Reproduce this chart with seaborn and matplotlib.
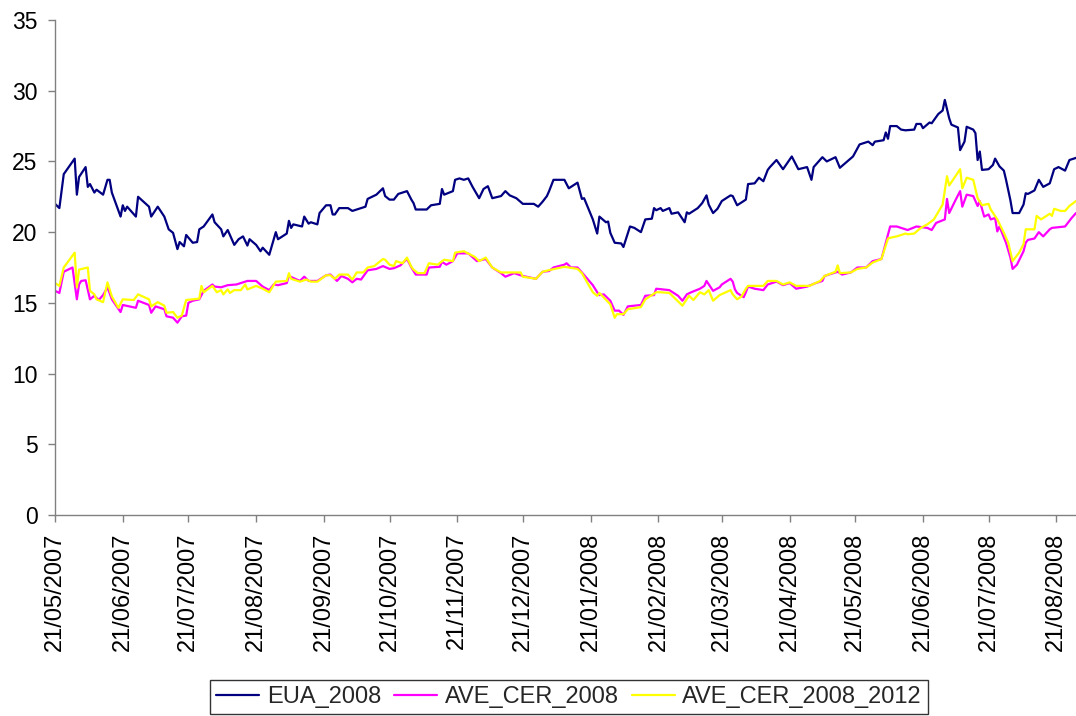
import matplotlib
matplotlib.use("Agg")
import matplotlib.pyplot as plt
import matplotlib.dates as mdates
from matplotlib import font_manager
import numpy as np
import pandas as pd
import seaborn as sns

# ---------------- data ----------------
start_date = "2007-05-21"

eua_day = [0, 2, 4, 9, 10, 11, 14, 15, 16, 18, 19, 22, 24, 25, 26, 30, 31, 32, 33, 37, 38, 43, 44, 47, 50,
           52, 54, 56, 57, 59, 60, 63, 65, 66, 68, 72, 73, 76, 77, 79, 82, 84, 86, 88, 89, 92, 94, 95, 98,
           101, 102, 106, 107, 108, 109, 113, 114, 116, 117, 120, 121, 124, 126, 127, 128, 130, 134, 136,
           142, 143, 147, 150, 151, 153, 155, 157, 161, 163, 164, 165, 170, 172, 176, 177, 178, 182, 183,
           185, 187, 189, 191, 194, 196, 198, 200, 204, 206, 208, 211, 214, 219, 221, 223, 225, 226, 228,
           233, 235, 239, 241, 242, 246, 248, 249, 252, 253, 254, 256, 259, 260, 263, 265, 268, 270, 273,
           274, 275, 277, 278, 281, 282, 285, 288, 289, 290, 294, 296, 298, 299, 301, 303, 305, 309, 310,
           312, 316, 317, 320, 322, 324, 326, 327, 330, 333, 337, 340, 344, 346, 347, 351, 353, 357, 359,
           365, 368, 372, 374, 375, 379, 380, 381, 382, 385, 387, 389, 393, 394, 396, 397, 400, 401, 404,
           406, 407, 409, 410, 413, 414, 416, 417, 420, 421, 422, 423, 424, 427, 429, 430, 432, 434, 435,
           437, 438, 441, 443, 444, 445, 448, 450, 452, 455, 457, 459, 462, 464, 467]
eua_val = [22.0, 21.7, 24.1, 25.2, 22.65, 23.9, 24.6, 23.2, 23.4, 22.8, 23.0, 22.65, 23.7, 23.7, 22.8, 21.1,
           21.9, 21.5, 21.8, 21.1, 22.5, 21.8, 21.1, 21.8, 21.1, 20.2, 19.95, 18.8, 19.3, 19.0, 19.8, 19.25,
           19.3, 20.2, 20.4, 21.25, 20.7, 20.2, 19.7, 20.15, 19.1, 19.5, 19.7, 19.05, 19.5, 19.1, 18.65,
           18.9, 18.4, 20.0, 19.5, 19.9, 20.8, 20.3, 20.55, 20.4, 21.1, 20.6, 20.7, 20.55, 21.35, 21.9,
           21.9, 21.25, 21.25, 21.7, 21.7, 21.5, 21.8, 22.35, 22.65, 23.1, 22.55, 22.3, 22.3, 22.7, 22.9,
           22.3, 22.05, 21.6, 21.6, 21.9, 22.0, 23.05, 22.65, 22.9, 23.7, 23.8, 23.7, 23.8, 23.2, 22.4,
           23.05, 23.25, 22.4, 22.55, 22.9, 22.6, 22.4, 22.0, 22.0, 21.8, 22.15, 22.55, 22.9, 23.7, 23.7,
           23.1, 23.5, 22.35, 22.4, 20.9, 19.9, 21.1, 20.7, 20.75, 19.95, 19.25, 19.2, 18.95, 20.4, 20.3,
           20.0, 20.9, 20.95, 21.7, 21.55, 21.7, 21.5, 21.7, 21.3, 21.4, 20.7, 21.4, 21.3, 21.7, 22.05,
           22.6, 21.95, 21.35, 21.65, 22.2, 22.6, 22.55, 21.9, 22.3, 23.4, 23.45, 23.85, 23.6, 24.4, 24.6,
           25.1, 24.45, 25.35, 24.45, 24.6, 23.7, 24.6, 25.3, 25.0, 25.3, 24.55, 25.35, 26.2, 26.4, 26.15,
           26.4, 26.5, 27.05, 26.6, 27.5, 27.5, 27.25, 27.2, 27.25, 27.65, 27.65, 27.35, 27.75, 27.7,
           28.35, 28.6, 29.35, 28.05, 27.6, 27.4, 25.8, 26.4, 27.45, 27.25, 27.0, 25.1, 25.7, 24.4, 24.45,
           24.75, 25.2, 24.65, 24.35, 23.7, 22.25, 21.35, 21.35, 21.95, 22.75, 22.7, 22.95, 23.7, 23.2,
           23.45, 24.45, 24.6, 24.35, 25.1, 25.25]

cer08_day = [0, 2, 4, 8, 10, 11, 12, 14, 16, 18, 20, 22, 24, 26, 30, 31, 37, 38, 43, 44, 46, 50, 51, 54, 56,
             58, 60, 61, 63, 66, 68, 72, 73, 76, 79, 83, 85, 88, 92, 95, 98, 100, 102, 106, 107, 112, 114,
             116, 120, 124, 126, 129, 131, 134, 136, 138, 140, 143, 147, 150, 153, 155, 158, 161, 163, 165,
             170, 171, 176, 177, 179, 182, 184, 189, 193, 197, 200, 204, 206, 210, 214, 220, 223, 226, 228,
             233, 234, 236, 239, 241, 246, 248, 249, 251, 254, 256, 258, 260, 262, 268, 270, 274, 275, 281,
             285, 287, 289, 291, 295, 297, 298, 301, 304, 305, 309, 310, 311, 312, 315, 316, 317, 320, 324,
             326, 330, 333, 336, 339, 344, 348, 351, 352, 358, 360, 364, 367, 371, 374, 378, 380, 382, 385,
             389, 390, 394, 399, 401, 403, 407, 408, 409, 412, 414, 415, 417, 420, 422, 423, 425, 427, 428,
             430, 431, 432, 435, 437, 438, 440, 443, 444, 445, 448, 450, 452, 455, 456, 462, 465, 467]
cer08_val = [15.85, 15.7, 17.2, 17.5, 15.25, 16.3, 16.55, 16.6, 15.25, 15.5, 15.2, 15.55, 16.1, 15.25, 14.35,
             14.85, 14.65, 15.15, 14.85, 14.3, 14.75, 14.55, 14.05, 13.95, 13.6, 14.05, 14.1, 15.0, 15.15,
             15.25, 15.85, 16.3, 16.15, 16.1, 16.25, 16.3, 16.4, 16.55, 16.55, 16.15, 15.9, 16.3, 16.25,
             16.4, 16.9, 16.55, 16.85, 16.55, 16.55, 16.95, 17.0, 16.55, 16.9, 16.7, 16.45, 16.7, 16.65,
             17.3, 17.4, 17.6, 17.4, 17.45, 17.65, 18.1, 17.5, 17.0, 17.0, 17.5, 17.55, 17.9, 17.7, 17.95,
             18.5, 18.5, 17.95, 18.1, 17.5, 17.1, 16.85, 17.1, 16.9, 16.7, 17.2, 17.25, 17.5, 17.7, 17.8,
             17.5, 17.5, 17.15, 16.25, 15.75, 15.55, 15.6, 15.15, 14.45, 14.45, 14.15, 14.75, 14.85, 15.5,
             15.55, 16.0, 15.9, 15.5, 15.15, 15.6, 15.75, 16.0, 16.2, 16.55, 15.85, 16.1, 16.3, 16.7, 16.5,
             15.95, 15.7, 15.4, 15.75, 16.15, 16.0, 15.9, 16.3, 16.5, 16.25, 16.4, 16.0, 16.15, 16.4, 16.55,
             16.9, 17.2, 17.0, 17.15, 17.5, 17.5, 17.95, 18.1, 19.25, 20.4, 20.4, 20.2, 20.15, 20.4, 20.3,
             20.15, 20.65, 20.9, 22.35, 21.35, 22.3, 22.9, 21.8, 22.65, 22.55, 21.85, 22.2, 21.1, 21.25,
             20.9, 21.0, 20.05, 20.4, 19.25, 18.2, 17.4, 17.7, 18.65, 19.25, 19.45, 19.55, 20.0, 19.7, 20.2,
             20.3, 20.4, 21.0, 21.35]

cer0812_day = [0, 2, 4, 9, 10, 11, 15, 16, 18, 19, 22, 24, 26, 29, 31, 36, 38, 43, 44, 47, 50, 51, 54, 56,
               58, 60, 63, 66, 67, 68, 72, 74, 76, 77, 79, 80, 82, 85, 87, 88, 92, 95, 98, 101, 106, 107,
               108, 112, 115, 117, 120, 124, 126, 128, 130, 134, 136, 138, 141, 143, 146, 150, 151, 153,
               155, 156, 159, 161, 163, 164, 166, 169, 171, 175, 178, 182, 183, 187, 192, 194, 197, 200,
               204, 213, 214, 220, 223, 227, 233, 239, 241, 246, 248, 249, 254, 256, 257, 260, 262, 268,
               270, 275, 277, 281, 284, 287, 290, 292, 295, 297, 299, 301, 304, 309, 310, 312, 314, 316,
               317, 324, 326, 330, 333, 336, 339, 345, 350, 352, 357, 358, 359, 364, 367, 371, 374, 378,
               381, 382, 385, 389, 390, 393, 396, 399, 402, 406, 408, 409, 414, 415, 417, 420, 422, 424,
               427, 428, 431, 434, 436, 438, 441, 443, 444, 448, 449, 451, 455, 456, 457, 460, 462, 464, 467]
cer0812_val = [16.4, 16.2, 17.5, 18.55, 16.1, 17.35, 17.5, 15.85, 15.6, 15.25, 15.05, 16.45, 15.45, 14.65,
               15.25, 15.2, 15.6, 15.25, 14.75, 15.05, 14.8, 14.3, 14.35, 13.95, 14.1, 15.2, 15.25, 15.3,
               16.2, 15.75, 16.2, 15.75, 15.9, 15.6, 15.95, 15.7, 15.9, 15.9, 16.3, 15.95, 16.2, 16.0, 15.75,
               16.5, 16.55, 17.1, 16.7, 16.5, 16.65, 16.5, 16.5, 16.95, 16.95, 16.7, 17.0, 17.0, 16.65,
               17.15, 17.15, 17.5, 17.6, 18.1, 18.05, 17.7, 17.6, 17.95, 17.8, 18.2, 17.55, 17.35, 17.1,
               17.1, 17.8, 17.7, 18.05, 17.95, 18.55, 18.65, 18.25, 17.95, 18.2, 17.5, 17.15, 17.15, 16.85,
               16.7, 17.2, 17.35, 17.55, 17.4, 17.1, 15.75, 15.5, 15.7, 14.9, 13.95, 14.2, 14.2, 14.55, 14.7,
               15.25, 15.75, 15.75, 15.7, 15.25, 14.8, 15.5, 15.2, 15.75, 15.6, 15.9, 15.15, 15.55, 15.9,
               15.6, 15.25, 15.45, 16.0, 16.2, 16.2, 16.55, 16.55, 16.3, 16.45, 16.2, 16.2, 16.55, 16.9,
               17.2, 17.65, 17.1, 17.15, 17.4, 17.5, 17.85, 18.1, 19.55, 19.6, 19.7, 19.9, 19.85, 19.9, 20.3,
               20.55, 20.9, 21.95, 23.95, 23.3, 24.45, 23.1, 23.85, 23.7, 22.4, 21.9, 22.0, 21.6, 20.9,
               19.95, 19.25, 17.95, 18.55, 19.15, 20.2, 20.2, 21.15, 20.9, 21.3, 21.15, 21.65, 21.5, 21.5,
               21.85, 22.2]

series_names = ["EUA_2008", "AVE_CER_2008", "AVE_CER_2008_2012"]
series_colors = ["#000080", "#FF00FF", "#FFFF00"]
y_ticks = [0, 5, 10, 15, 20, 25, 30, 35]

# ---------------- build frames ----------------
t0 = pd.Timestamp(start_date)
frames = []
for name, days, vals in [(series_names[0], eua_day, eua_val),
                         (series_names[1], cer08_day, cer08_val),
                         (series_names[2], cer0812_day, cer0812_val)]:
    frames.append(pd.DataFrame({"date": t0 + pd.to_timedelta(days, unit="D"),
                                "price": vals, "series": name}))
df = pd.concat(frames, ignore_index=True)

# ---------------- style ----------------
sns.set_style("white")
avail = {f.name for f in font_manager.fontManager.ttflist}
fam = "Liberation Sans" if "Liberation Sans" in avail else "DejaVu Sans"
plt.rcParams["font.family"] = [fam, "DejaVu Sans"]

fig = plt.figure(figsize=(10.76, 7.16), dpi=100)
ax = fig.add_axes([55 / 1076, 1 - 515 / 716, 1 - 55 / 1076, (515 - 20) / 716])

for name, col in zip(series_names, series_colors):
    sub = df[df["series"] == name]
    sns.lineplot(data=sub, x="date", y="price", color=col, linewidth=1.6,
                 estimator=None, ax=ax, label=name)

ax.set_xlim(t0, df["date"].max())
ax.set_ylim(0, 35)
ax.set_yticks(y_ticks)
ax.xaxis.set_major_locator(mdates.MonthLocator(bymonthday=21))
ax.xaxis.set_major_formatter(mdates.DateFormatter("%d/%m/%Y"))
ax.set_xlabel("")
ax.set_ylabel("")

for s in ["top", "right"]:
    ax.spines[s].set_visible(False)
for s in ["left", "bottom"]:
    ax.spines[s].set_color("#808080")
    ax.spines[s].set_linewidth(1.0)

ax.tick_params(axis="both", which="major", direction="out", length=5, width=1,
               color="#808080", labelcolor="black")
ax.tick_params(axis="y", labelsize=16.5, pad=7.5, left=True)
ax.tick_params(axis="x", labelsize=17, pad=7.5, bottom=True)
for lab in ax.get_xticklabels():
    lab.set_rotation(90)
    lab.set_ha("center")
    lab.set_va("top")

ax.get_legend().remove()
handles, labels = ax.get_legend_handles_labels()
leg = fig.legend(handles, labels, loc="lower center", bbox_to_anchor=(569 / 1076, 2 / 716),
                 bbox_transform=fig.transFigure, ncol=3, frameon=True, fancybox=False,
                 fontsize=17, handlelength=1.82, handletextpad=0.33, columnspacing=0.55,
                 borderpad=0.25, borderaxespad=0)
leg.get_frame().set_edgecolor("black")
leg.get_frame().set_linewidth(1.0)
for lh in leg.get_lines():
    lh.set_linewidth(1.6)

fig.savefig("out.png", dpi=100)
